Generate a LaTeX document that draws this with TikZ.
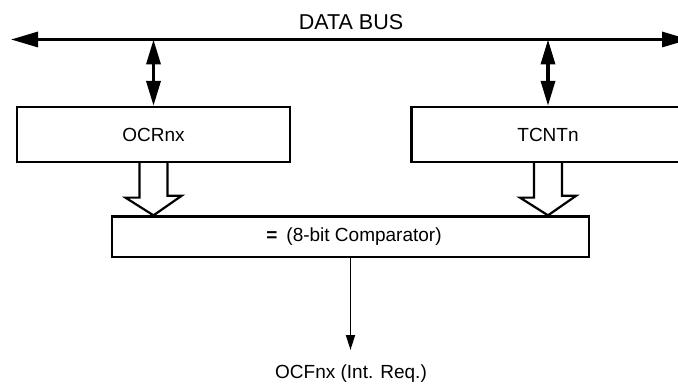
\documentclass[tikz,border=0pt]{standalone}
\usepackage{fontspec}
\setmainfont{Liberation Sans}
\usetikzlibrary{arrows.meta}
\tikzset{
  regbox/.style={draw=black, line width=2.3pt, minimum width=273pt, minimum height=55pt, inner sep=0pt, font=\fontsize{19}{22}\selectfont},
  cmpbox/.style={draw=black, line width=2.3pt, minimum width=477pt, minimum height=40.5pt, inner sep=0pt, font=\fontsize{19}{22}\selectfont},
  busline/.style={line width=3.2pt, {Triangle[length=27pt,width=15pt]}-{Triangle[length=27pt,width=15pt]}},
  busarrow/.style={line width=3.5pt, {Triangle[length=25pt,width=14pt]}-{Triangle[length=25pt,width=14pt]}},
  hollow/.style={draw=black, line width=2.2pt, line join=miter},
  outarrow/.style={line width=1.8pt, -{Triangle[length=15pt,width=9pt]}},
  lbl/.style={inner sep=0pt, font=\fontsize{19}{22}\selectfont},
  buslbl/.style={inner sep=0pt, font=\fontsize{21.5}{24}\selectfont}
}
\begin{document}
\begin{tikzpicture}[x=1pt,y=-1pt]
\useasboundingbox (0,0) rectangle (678,385);
\clip (0,0) rectangle (678,385);
% data bus
\coordinate (busL) at (11,39.5);
\coordinate (busR) at (689,39.5);
\draw[busline] (busL) -- (busR);
\node[buslbl, anchor=base] (buslabel) at (351,30) {DATA BUS};
% registers
\node[regbox] (ocr) at (153.5,134.5) {OCRnx};
\node[regbox] (tcnt) at (548,134.5) {TCNTn};
\coordinate (busA) at (153.5,39.5);
\coordinate (busB) at (548,39.5);
\draw[busarrow] (busA) -- (ocr.north);
\draw[busarrow] (busB) -- (tcnt.north);
% comparator
\node[cmpbox] (cmp) at (350.5,236.75) {\hspace*{7pt}\textbf{=}\hspace{9pt}(8-bit Comparator)};
% hollow arrows
\draw[hollow] ([xshift=-14pt]ocr.south) -- ++(0,34.5) -- ++(-14,0) -- (cmp.north -| ocr.south) -- ++(28,-19.5) -- ++(-14,0) -- ([xshift=14pt]ocr.south);
\draw[hollow] ([xshift=-14pt]tcnt.south) -- ++(0,34.5) -- ++(-14,0) -- (cmp.north -| tcnt.south) -- ++(28,-19.5) -- ++(-14,0) -- ([xshift=14pt]tcnt.south);
% output
\coordinate (out) at (350.5,350);
\draw[outarrow] (cmp.south) -- (out);
\node[lbl, anchor=base] (ocf) at (351,378) {OCFnx (Int. Req.)};
\end{tikzpicture}
\end{document}
